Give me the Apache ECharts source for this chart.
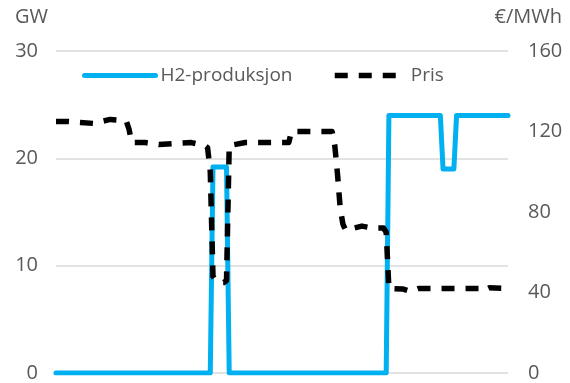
<!DOCTYPE html>
<html>
<head>
<meta charset="utf-8">
<script src="https://cdn.jsdelivr.net/npm/echarts@6/dist/echarts.min.js"></script>
<style>
    html, body { margin: 0; padding: 0; background: #fff; }
    #chart { width: 570px; height: 383px; }
</style>
</head>
<body>
<div id="chart"></div>
<script>
// hour of the week (0-167) and value at that hour
var h2Hours = [0, 57, 58, 63, 64, 122, 123, 142, 143, 147, 148, 167];
var h2Values = [0, 0, 19.2, 19.2, 0, 0, 24, 24, 19, 19, 24, 24];

var priceHours = [0, 4, 9, 14, 20, 25, 26, 27, 28, 33, 38, 44, 50, 55, 56, 57, 58, 59, 60, 62, 63, 64,
    70, 80, 86, 87, 95, 102, 103, 104, 105, 106, 107, 110, 113, 117, 121, 122, 123,
    128, 131, 134, 145, 157, 158, 160, 167];
var priceValues = [125, 125, 124.5, 124, 126, 125.5, 125, 121, 114.5, 114.5, 113.5, 114, 114.5, 113, 112, 100, 48, 46, 45, 45, 46, 113,
    114.5, 114.5, 114.5, 120, 120, 120, 113, 99, 82, 74, 71, 72, 73, 72, 72, 70, 42,
    41.8, 40.5, 42, 42, 42, 41, 42.3, 42];

var leftTicks = [0, 30, 10];    // min, max, interval
var rightTicks = [0, 160, 40];

function pairs(xs, ys) {
    var out = [];
    for (var i = 0; i < xs.length; i++) out.push([xs[i], ys[i]]);
    return out;
}

var myChart = echarts.init(document.getElementById('chart'));

var labelStyle = {
    color: '#595959',
    fontSize: 20,
    fontFamily: '"Open Sans"'
};
var legendText = { color: '#595959', fontSize: 19, fontFamily: '"Open Sans"' };

var option = {
    animation: false,
    grid: {
        left: 56,
        right: 62,
        top: 51,
        bottom: 8
    },
    legend: [{
        data: ['H2-produksjon'],
        left: 82,
        top: 66,
        padding: 0,
        itemWidth: 71,
        itemHeight: 24,
        itemStyle: { opacity: 0 },
        lineStyle: { width: 5, cap: 'round' },
        textStyle: legendText
    }, {
        data: ['Pris'],
        left: 332,
        top: 66,
        padding: 0,
        itemWidth: 71,
        itemHeight: 24,
        itemStyle: { opacity: 0 },
        lineStyle: { width: 5.5, cap: 'butt' },
        textStyle: legendText
    }],
    graphic: [{
        type: 'text',
        left: 15,
        top: 7,
        style: { text: 'GW', fill: '#595959', font: '20px "Open Sans"' }
    }, {
        type: 'text',
        right: 8,
        top: 7,
        style: { text: '€/MWh', fill: '#595959', font: '20px "Open Sans"' }
    }],
    xAxis: {
        type: 'value',
        min: 0,
        max: 167,
        show: false
    },
    yAxis: [{
        type: 'value',
        min: leftTicks[0],
        max: leftTicks[1],
        interval: leftTicks[2],
        axisLine: { show: false },
        axisTick: { show: false },
        axisLabel: Object.assign({ margin: 18 }, labelStyle),
        splitLine: { lineStyle: { color: '#d9d9d9', width: 1.5 } }
    }, {
        type: 'value',
        min: rightTicks[0],
        max: rightTicks[1],
        interval: rightTicks[2],
        axisLine: { show: false },
        axisTick: { show: false },
        axisLabel: Object.assign({ margin: 20 }, labelStyle),
        splitLine: { show: false }
    }],
    series: [{
        name: 'H2-produksjon',
        type: 'line',
        yAxisIndex: 0,
        symbol: 'none',
        data: pairs(h2Hours, h2Values),
        lineStyle: { color: '#00b0f0', width: 5, cap: 'round', join: 'round' },
        itemStyle: { color: '#00b0f0' }
    }, {
        name: 'Pris',
        type: 'line',
        yAxisIndex: 1,
        symbol: 'none',
        data: pairs(priceHours, priceValues),
        lineStyle: { color: '#000', width: 5.5, type: [13, 11], cap: 'butt', join: 'round' },
        itemStyle: { color: '#000' }
    }]
};

myChart.setOption(option);

window.addEventListener("resize", function () {
    myChart.resize();
});
</script>
</body>
</html>
